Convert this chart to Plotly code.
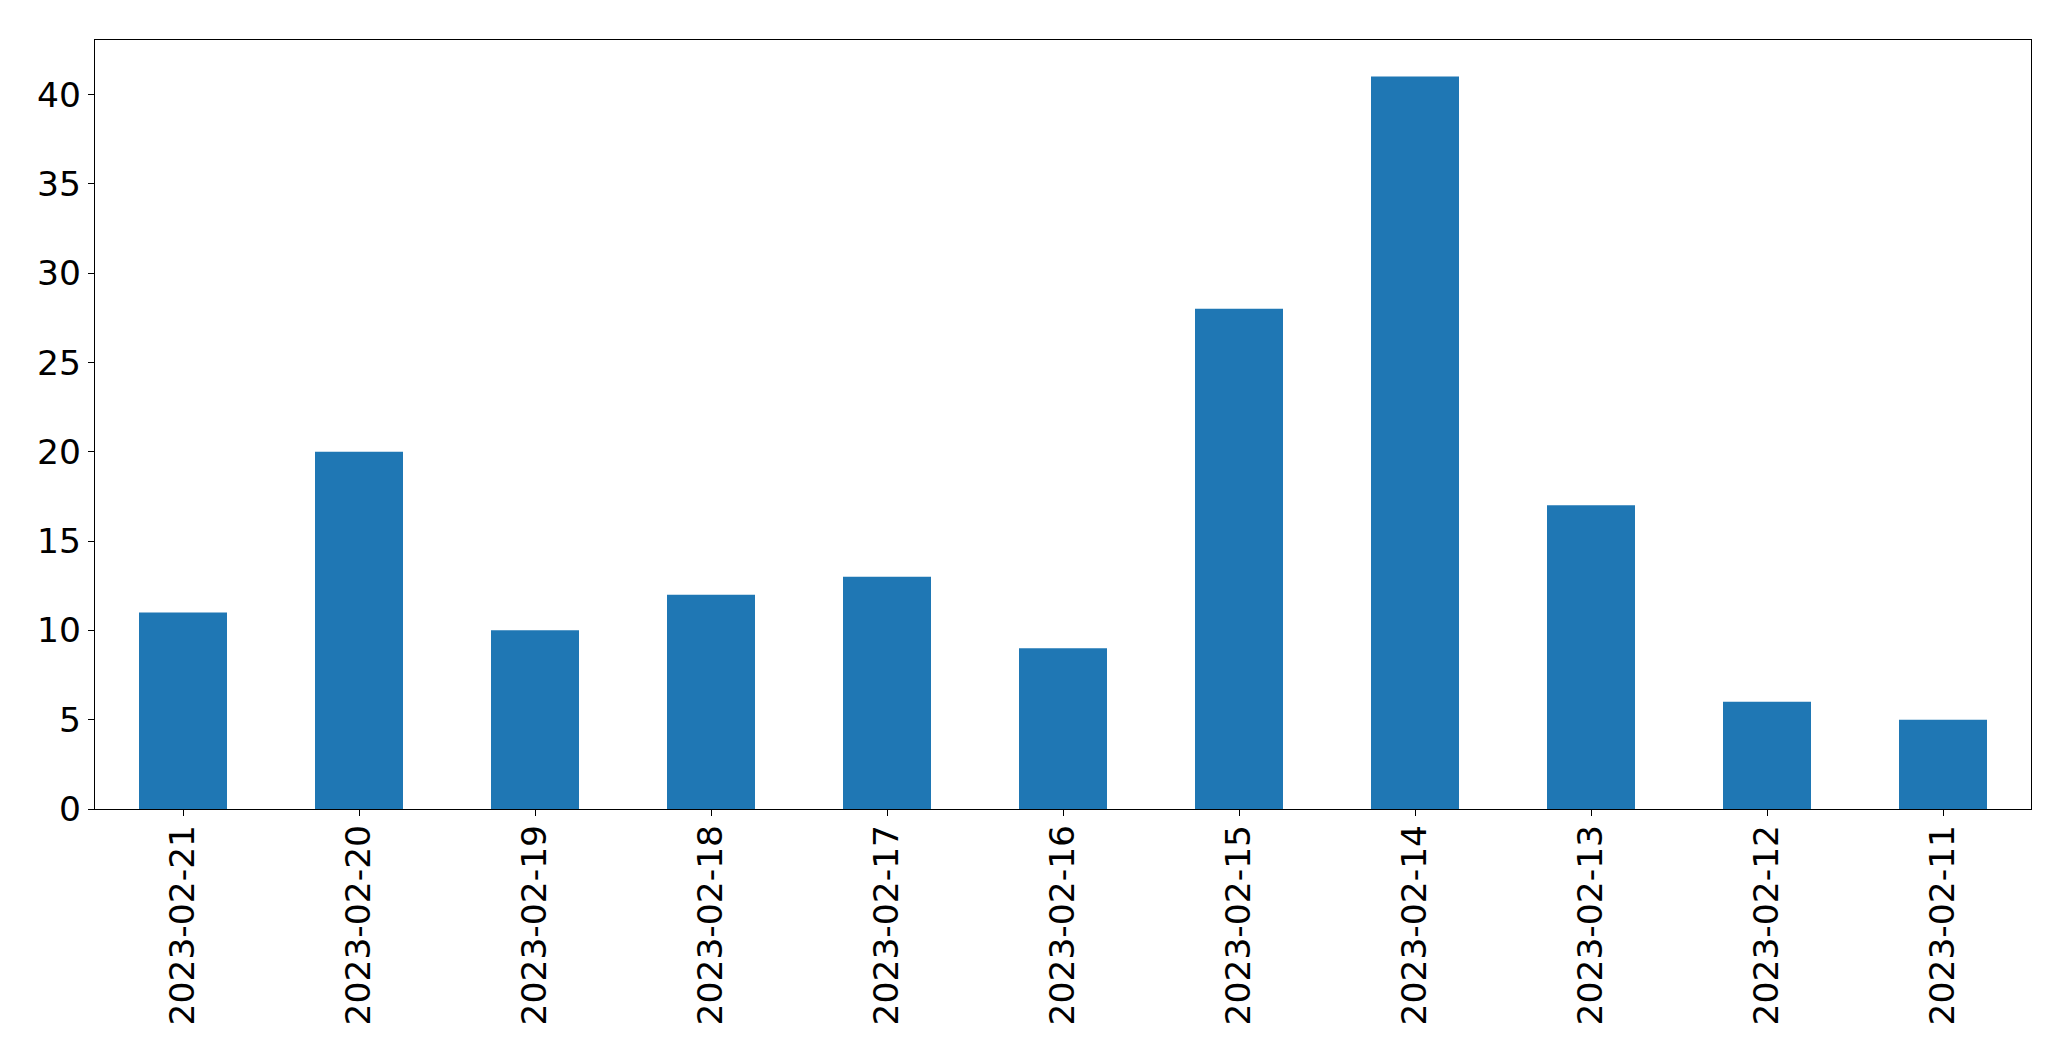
import plotly.graph_objects as go

dates = ["2023-02-21", "2023-02-20", "2023-02-19", "2023-02-18", "2023-02-17",
         "2023-02-16", "2023-02-15", "2023-02-14", "2023-02-13", "2023-02-12", "2023-02-11"]
counts = [11, 20, 10, 12, 13, 9, 28, 41, 17, 6, 5]
y_ticks = [0, 5, 10, 15, 20, 25, 30, 35, 40]

fig = go.Figure(go.Bar(x=dates, y=counts, marker=dict(color="#1f77b4", line=dict(width=0)), width=0.5))

font = dict(family="DejaVu Sans", size=34.5, color="black")
fig.update_layout(
    width=2071, height=1061,
    margin=dict(l=86.5, r=48, t=31.5, b=260),
    plot_bgcolor="white", paper_bgcolor="white",
    showlegend=False,
    font=font,
)
fig.update_xaxes(
    type="category", range=[-0.5, 10.5], tickangle=-90,
    showline=True, mirror=True, linecolor="black", linewidth=1.3,
    ticks="outside", ticklen=6, tickcolor="black", tickwidth=1.3,
    showgrid=False, tickfont=font, ticklabelstandoff=-5,
)
fig.update_yaxes(
    range=[0, 43.05], tickvals=y_ticks,
    showline=True, mirror=True, linecolor="black", linewidth=1.3,
    ticks="outside", ticklen=6, tickcolor="black", tickwidth=1.3,
    showgrid=False, zeroline=False, tickfont=font,
)
fig.write_html("out.html")
